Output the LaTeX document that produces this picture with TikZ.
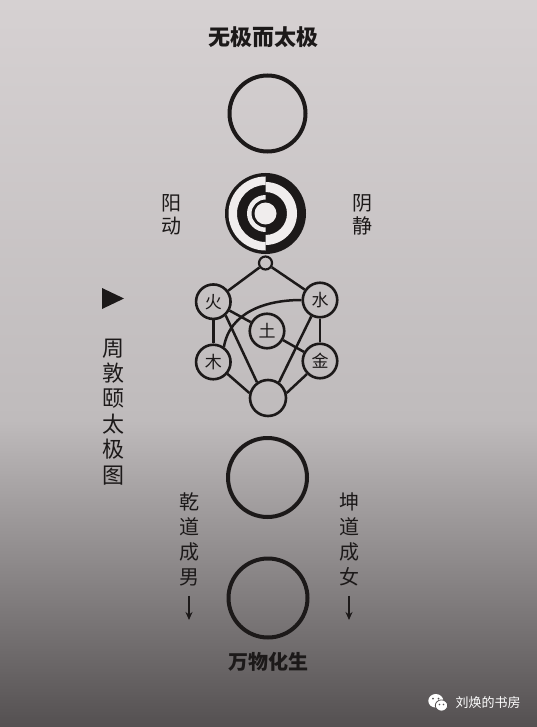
\documentclass[tikz,border=0pt]{standalone}
\usepackage{fontspec}
\newfontfamily\cjk{Noto Sans CJK SC}
\usetikzlibrary{arrows.meta}
\definecolor{ink}{RGB}{28,25,25}
\definecolor{paper}{RGB}{240,237,237}
\definecolor{fundoA}{RGB}{214,209,210}
\definecolor{fundoB}{RGB}{191,187,188}
\definecolor{fundoC}{RGB}{160,156,157}
\definecolor{fundoD}{RGB}{84,80,81}

\begin{document}
\begin{tikzpicture}[x=1pt, y=1pt, >={Stealth[length=8pt,width=7pt]}]
  % Estilos
  \tikzstyle{bigring}=[circle, draw=ink, line width=4pt, inner sep=0pt, minimum size=76pt]
  \tikzstyle{element}=[circle, draw=ink, line width=2.6pt, inner sep=0pt, minimum size=34.5pt, text=ink, font=\cjk\fontsize{17}{17}\selectfont]
  \tikzstyle{word}=[inner sep=0pt, text=ink, align=center]
  \tikzstyle{link}=[draw=ink, line width=2.5pt]

  % Fundo
  \shade[top color=fundoA, bottom color=fundoB] (0,0) rectangle (537,-420);
  \shade[top color=fundoB, middle color=fundoC, bottom color=fundoD] (0,-420) rectangle (537,-727);
  \useasboundingbox (0,0) rectangle (537,-727);

  % Circulos
  \node[bigring] (wuji) at (267.5,-113.5) {};
  \node[circle, fill=ink, inner sep=0pt, minimum size=81pt] (taiji) at (265.5,-213.5) {};
  \begin{scope}
    \clip (220,-165) rectangle (265.5,-262);
    \fill[paper, even odd rule] (taiji.center) circle (37) circle (28.5)
                                (taiji.center) circle (18.5) circle (14);
  \end{scope}
  \begin{scope}
    \clip (265.5,-165) rectangle (312,-262);
    \fill[paper, even odd rule] (taiji.center) circle (31.5) circle (21.5);
  \end{scope}
  \fill[paper] (taiji.center) circle (11);
  \node[circle, draw=ink, line width=2.2pt, inner sep=0pt, minimum size=13pt] (dongjing) at (265.5,-263) {};

  \node[element] (huo) at (213.3,-301.7) {火};
  \node[element] (shui) at (320,-300) {水};
  \node[element] (tu) at (267,-331) {土};
  \node[element] (mu) at (213.3,-362) {木};
  \node[element] (jin) at (320,-361) {金};
  \node[element, minimum size=36pt] (hui) at (268,-398) {};

  \node[bigring, minimum size=79pt] (chengxing) at (267.5,-477.5) {};
  \node[bigring, minimum size=79pt] (huasheng) at (268,-598) {};

  % Ligacoes
  \draw[link] (dongjing) -- (huo);
  \draw[link] (dongjing) -- (shui);
  \draw[link] (huo) -- (mu);
  \draw[link] (shui) -- (jin);
  \draw[link] (huo) -- (tu);
  \draw[link] (tu) -- (jin);
  \draw[link] (shui.180) to[out=180, in=80] (mu.55);
  \draw[link] (huo.-48) -- (hui.125);
  \draw[link] (shui.-118) -- (hui.55);
  \draw[link] (mu.-40) -- (hui.165);
  \draw[link] (jin.-135) -- (hui.15);

  % Textos
  \node[word, font=\cjk\bfseries\fontsize{22}{22}\selectfont] (titulo) at (263,-37) {无极而太极};
  \node[word, font=\cjk\fontsize{20}{23}\selectfont] (yangdong) at (171,-214.5) {阳\\动};
  \node[word, font=\cjk\fontsize{20}{23}\selectfont] (yinjing) at (362,-214.5) {阴\\静};
  \fill[ink] (102,-288) -- (124,-298.5) -- (102,-309) -- cycle;
  \node[word, font=\cjk\fontsize{22}{25.4}\selectfont] (zhoutu) at (113,-411.7) {周\\敦\\颐\\太\\极\\图};
  \node[word, font=\cjk\fontsize{20}{25}\selectfont] (qiandao) at (189,-539) {乾\\道\\成\\男};
  \node[word, font=\cjk\fontsize{20}{25}\selectfont] (kundao) at (349,-539) {坤\\道\\成\\女};
  \node[word, font=\cjk\bfseries\fontsize{20}{20}\selectfont] (wanwu) at (268,-662) {万物化生};

  % Setas
  \coordinate (qianfim) at (189,-620);
  \coordinate (kunfim) at (349,-620);
  \draw[->, ink, line width=2pt, shorten <=10pt] (qiandao.south) -- (qianfim);
  \draw[->, ink, line width=2pt, shorten <=10pt] (kundao.south) -- (kunfim);

  % Marca
  \fill[white] (435.8,-700.8) ellipse (7.5 and 6.8);
  \fill[white, draw=fundoD, line width=0.8pt] (441.5,-705.5) ellipse (6.2 and 5.6);
  \fill[fundoD] (433,-698.5) circle (1) (438.5,-698.5) circle (1);
  \fill[fundoD] (439.5,-704.5) circle (0.8) (443.5,-704.5) circle (0.8);
  \node[inner sep=0pt, text=white, font=\cjk\fontsize{13}{13}\selectfont] (marca) at (488,-703) {刘焕的书房};
\end{tikzpicture}
\end{document}
